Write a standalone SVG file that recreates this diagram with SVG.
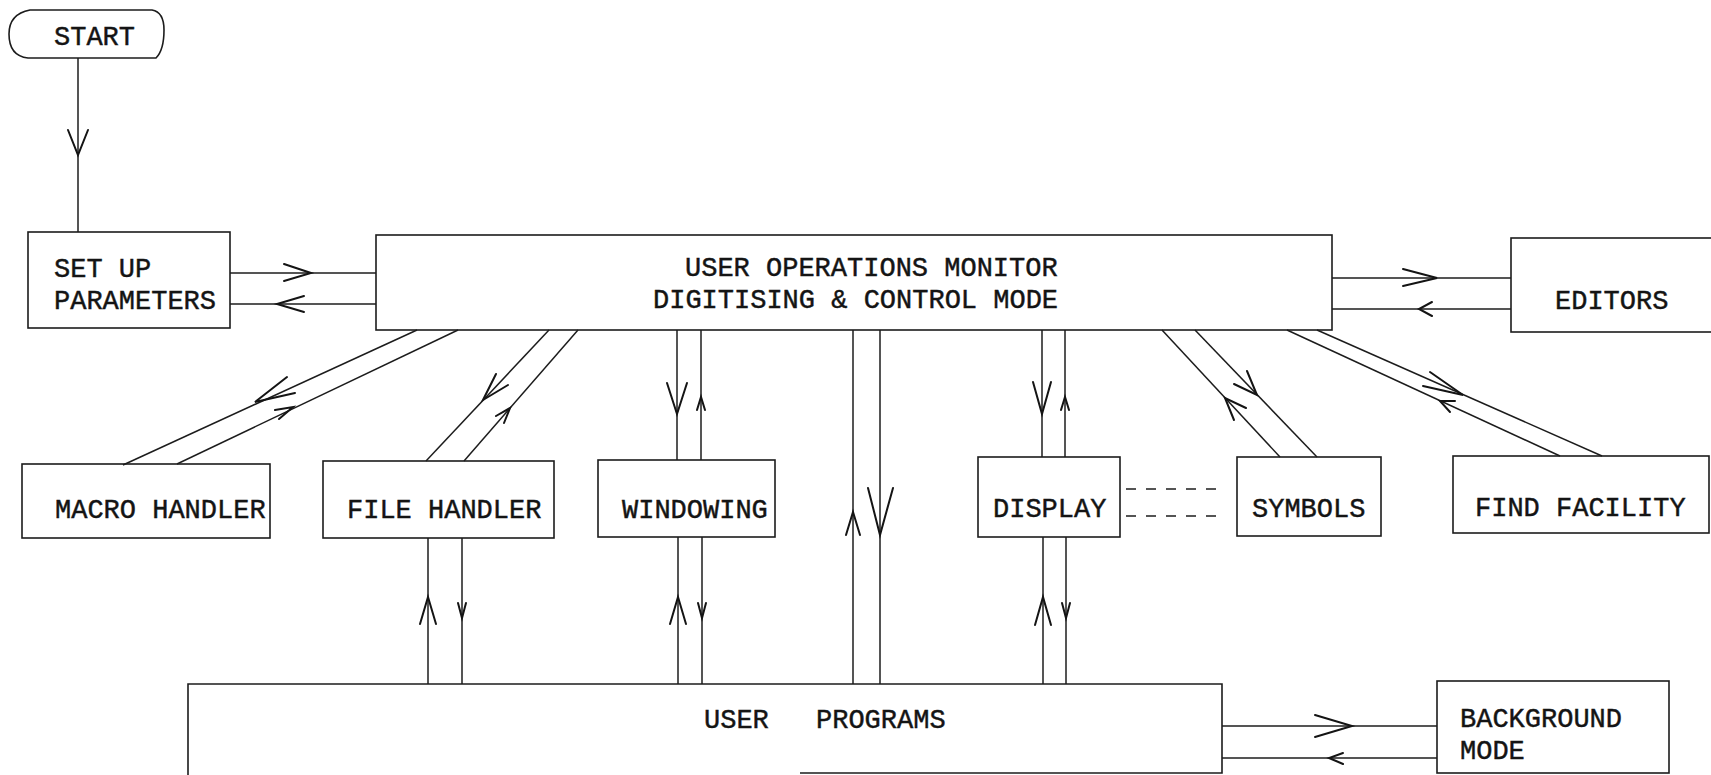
<svg xmlns="http://www.w3.org/2000/svg" width="1711" height="775" viewBox="0 0 1711 775">
<style>
.box{fill:none;stroke:#1c1c1c;stroke-width:1.6}
.t{font-family:"Liberation Mono","DejaVu Sans Mono",monospace;font-size:27px;fill:#141414;stroke:#141414;stroke-width:0.45}
.ln{fill:none;stroke:#1c1c1c;stroke-width:1.5}
.ah{fill:none;stroke:#141414;stroke-width:2;stroke-linejoin:miter;stroke-linecap:round}
.dash{stroke-dasharray:10 10}
</style>
<rect width="1711" height="775" fill="#ffffff"/>
<g id="start">
<path class="box" d="M30,10 H152 Q164,12 164,30 Q164,50 156,58 H28 Q9,56 9,34 Q9,14 30,10 Z"/>
<text class="t" x="54" y="45">START</text>
</g>
<g id="setup">
<rect class="box" x="28" y="232" width="202" height="96"/>
<text class="t" x="54" y="277">SET UP</text>
<text class="t" x="54" y="309">PARAMETERS</text>
</g>
<g id="uom">
<rect class="box" x="376" y="235" width="956" height="95"/>
<text class="t" x="685" y="276">USER OPERATIONS MONITOR</text>
<text class="t" x="653" y="308">DIGITISING &amp; CONTROL MODE</text>
</g>
<g id="editors">
<rect class="box" x="1511" y="238" width="220" height="94"/>
<text class="t" x="1555" y="309">EDITORS</text>
</g>
<g id="macro">
<rect class="box" x="22" y="464" width="248" height="74"/>
<text class="t" x="55" y="518">MACRO HANDLER</text>
</g>
<g id="file">
<rect class="box" x="323" y="461" width="231" height="77"/>
<text class="t" x="347" y="518">FILE HANDLER</text>
</g>
<g id="windowing">
<rect class="box" x="598" y="460" width="177" height="77"/>
<text class="t" x="622" y="518">WINDOWING</text>
</g>
<g id="display">
<rect class="box" x="978" y="457" width="142" height="80"/>
<text class="t" x="993" y="517">DISPLAY</text>
</g>
<g id="symbols">
<rect class="box" x="1237" y="457" width="144" height="79"/>
<text class="t" x="1252" y="517">SYMBOLS</text>
</g>
<g id="find">
<rect class="box" x="1453" y="456" width="256" height="77"/>
<text class="t" x="1475" y="516">FIND FACILITY</text>
</g>
<g id="userprograms">
<path class="box" d="M188,780 V684 H1222 V773 H800"/>
<text class="t" x="704" y="728">USER</text>
<text class="t" x="816" y="728">PROGRAMS</text>
</g>
<g id="background">
<rect class="box" x="1437" y="681" width="232" height="92"/>
<text class="t" x="1460" y="727">BACKGROUND</text>
<text class="t" x="1460" y="759">MODE</text>
</g>
<g id="connectors">
<line class="ln" x1="78" y1="58" x2="78" y2="232"/>
<polyline class="ah" points="68,130 78,155 88,130"/>
<line class="ln" x1="230" y1="273" x2="376" y2="273"/>
<polyline class="ah" points="284,264 311,273 284,281"/>
<line class="ln" x1="230" y1="304" x2="376" y2="304"/>
<polyline class="ah" points="304,296 277,304 304,312"/>
<line class="ln" x1="1332" y1="278" x2="1511" y2="278"/>
<polyline class="ah" points="1403,269 1437,278 1403,286"/>
<line class="ln" x1="1332" y1="309" x2="1511" y2="309"/>
<polyline class="ah" points="1432,302 1419,309 1432,316"/>
<line class="ln" x1="417" y1="330" x2="123" y2="465"/>
<polyline class="ah" points="287,377 255,402 295,393"/>
<line class="ln" x1="458" y1="330" x2="177" y2="464"/>
<polyline class="ah" points="275,410 293,407 279,419"/>
<line class="ln" x1="549" y1="330" x2="426" y2="461"/>
<polyline class="ah" points="496,374 483,400 508,385"/>
<line class="ln" x1="578" y1="330" x2="464" y2="461"/>
<polyline class="ah" points="496,416 510,408 504,423"/>
<line class="ln" x1="677" y1="330" x2="677" y2="460"/>
<polyline class="ah" points="667,383 677,414 687,383"/>
<line class="ln" x1="701" y1="330" x2="701" y2="460"/>
<polyline class="ah" points="697,410 701,397 705,410"/>
<line class="ln" x1="853" y1="330" x2="853" y2="684"/>
<polyline class="ah" points="846,535 853,512 860,535"/>
<line class="ln" x1="880" y1="330" x2="880" y2="684"/>
<polyline class="ah" points="868,488 880,535 893,488"/>
<line class="ln" x1="1042" y1="330" x2="1042" y2="457"/>
<polyline class="ah" points="1033,382 1042,414 1051,382"/>
<line class="ln" x1="1065" y1="330" x2="1065" y2="457"/>
<polyline class="ah" points="1061,410 1065,397 1069,410"/>
<line class="ln" x1="1162" y1="330" x2="1280" y2="457"/>
<polyline class="ah" points="1246,408 1225,398 1234,420"/>
<line class="ln" x1="1195" y1="330" x2="1317" y2="457"/>
<polyline class="ah" points="1247,371 1257,395 1234,384"/>
<line class="ln" x1="1317" y1="330" x2="1602" y2="456"/>
<polyline class="ah" points="1430,372 1463,395 1423,386"/>
<line class="ln" x1="1287" y1="330" x2="1560" y2="456"/>
<polyline class="ah" points="1455,401 1440,401 1450,412"/>
<line class="ln" x1="428" y1="538" x2="428" y2="684"/>
<polyline class="ah" points="420,624 428,597 436,624"/>
<line class="ln" x1="462" y1="538" x2="462" y2="684"/>
<polyline class="ah" points="458,603 462,618 466,603"/>
<line class="ln" x1="678" y1="537" x2="678" y2="684"/>
<polyline class="ah" points="670,624 678,597 686,624"/>
<line class="ln" x1="702" y1="537" x2="702" y2="684"/>
<polyline class="ah" points="698,603 702,618 706,603"/>
<line class="ln" x1="1043" y1="537" x2="1043" y2="684"/>
<polyline class="ah" points="1035,625 1043,597 1051,625"/>
<line class="ln" x1="1066" y1="537" x2="1066" y2="684"/>
<polyline class="ah" points="1062,603 1066,618 1070,603"/>
<line class="ln dash" x1="1126" y1="489" x2="1222" y2="489"/>
<line class="ln dash" x1="1126" y1="516" x2="1222" y2="516"/>
<line class="ln" x1="1222" y1="726" x2="1437" y2="726"/>
<polyline class="ah" points="1315,715 1352,726 1315,737"/>
<line class="ln" x1="1222" y1="758" x2="1437" y2="758"/>
<polyline class="ah" points="1343,753 1329,758 1343,764"/>
</g>
</svg>
